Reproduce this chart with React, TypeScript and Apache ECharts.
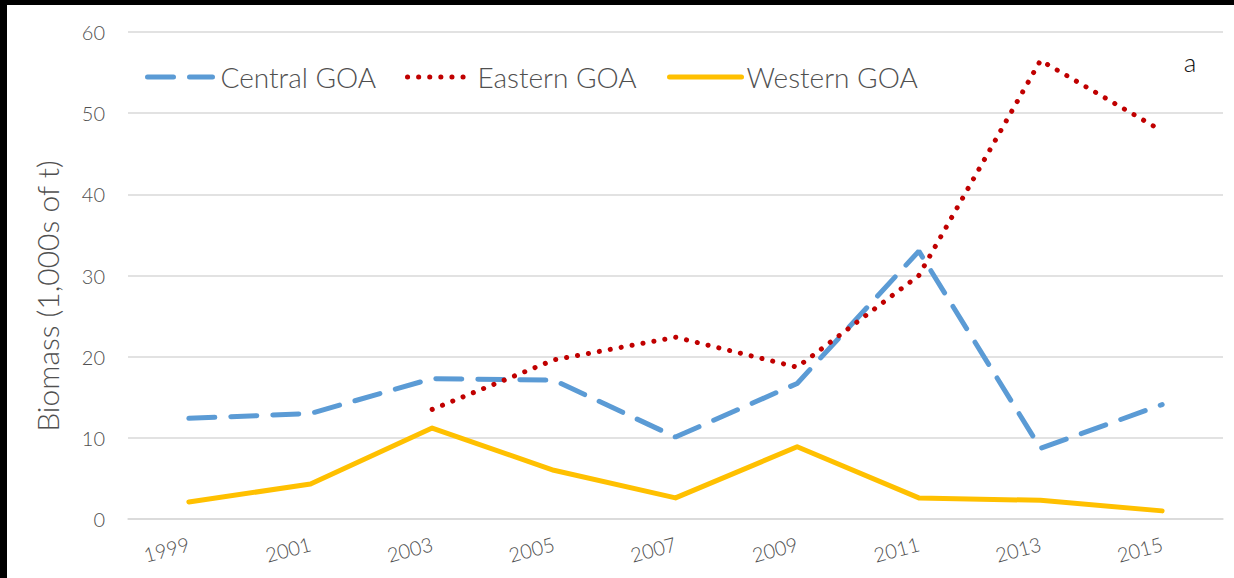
import React, { useEffect, useRef } from "react";
import * as echarts from "echarts";

const years = ["1999", "2001", "2003", "2005", "2007", "2009", "2011", "2013", "2015"];
const central = [12.4, 13.0, 17.3, 17.1, 10.1, 16.7, 33.0, 8.7, 14.1];
const eastern = [null, null, 13.5, 19.6, 22.4, 18.7, 30.0, 56.5, 47.8];
const western = [2.1, 4.3, 11.2, 6.0, 2.6, 8.9, 2.6, 2.3, 1.0];
const yTicks = { min: 0, max: 60, interval: 10 };

const FONT = "Lato";
const TXT = "#505050";
const BLUE = "#5B9BD5";
const RED = "#C00000";
const YELLOW = "#FFC000";
const dashBlue = [26, 16];
const dotRed = [0.1, 11];

export default function App() {
  const ref = useRef<HTMLDivElement>(null);
  useEffect(() => {
    const chart = echarts.init(ref.current!, null, { renderer: "svg" });
    const legendBase = {
      top: 58,
      itemHeight: 14,
      itemStyle: { opacity: 0 },
      textStyle: { fontFamily: FONT, fontSize: 28, color: TXT, fontWeight: 300, padding: [0, 0, 0, 3] },
    };
    chart.setOption({
      animation: false,
      backgroundColor: "#ffffff",
      textStyle: { fontFamily: FONT },
      grid: { left: 128, top: 32, right: 11, bottom: 59 },
      legend: [
        { ...legendBase, left: 140, itemWidth: 65, data: ["Central GOA"], lineStyle: { width: 5, type: dashBlue, cap: "round", color: BLUE } },
        { ...legendBase, left: 400, itemWidth: 62, data: ["Eastern GOA"], lineStyle: { width: 5, type: dotRed, cap: "round", color: RED } },
        {
          ...legendBase,
          left: 662,
          itemWidth: 72,
          data: ["Western GOA"],
          lineStyle: { width: 5, type: "solid", cap: "round", color: YELLOW },
          textStyle: { ...legendBase.textStyle, padding: [0, 0, 0, 0] },
        },
      ],
      xAxis: {
        type: "category",
        data: years,
        boundaryGap: true,
        axisLine: { show: true, lineStyle: { color: "#D9D9D9", width: 1.5 } },
        axisTick: { show: false },
        axisLabel: { rotate: 15, fontSize: 20, color: TXT, fontFamily: FONT, fontWeight: 300, margin: 24 },
      },
      yAxis: {
        type: "value",
        min: yTicks.min,
        max: yTicks.max,
        interval: yTicks.interval,
        axisLine: { show: false },
        axisTick: { show: false },
        axisLabel: { fontSize: 20, color: TXT, fontFamily: FONT, fontWeight: 300, margin: 23 },
        splitLine: { lineStyle: { color: "#D9D9D9", width: 1.5 } },
      },
      series: [
        {
          name: "Central GOA",
          type: "line",
          data: central,
          symbol: "none",
          color: BLUE,
          lineStyle: { color: BLUE, width: 5, type: dashBlue, cap: "round" },
        },
        {
          name: "Eastern GOA",
          type: "line",
          data: eastern,
          symbol: "none",
          color: RED,
          lineStyle: { color: RED, width: 5, type: dotRed, cap: "round" },
        },
        {
          name: "Western GOA",
          type: "line",
          data: western,
          symbol: "none",
          color: YELLOW,
          lineStyle: { color: YELLOW, width: 5, type: "solid", cap: "round", join: "round" },
        },
      ],
      graphic: [
        { type: "rect", left: 0, top: 0, shape: { width: 1234, height: 5 }, style: { fill: "#000" }, z: 100 },
        { type: "rect", left: 0, top: 0, shape: { width: 7, height: 578 }, style: { fill: "#000" }, z: 100 },
        {
          type: "text",
          x: 47,
          y: 296,
          rotation: Math.PI / 2,
          style: { text: "Biomass (1,000s of t)", fontFamily: FONT, fontSize: 30, fontWeight: 300, fill: TXT, align: "center", verticalAlign: "middle" },
        },
        {
          type: "text",
          x: 1190,
          y: 62,
          style: { text: "a", fontFamily: FONT, fontSize: 26, fontWeight: 300, fill: "#111", align: "center", verticalAlign: "middle" },
        },
      ],
    });
    return () => chart.dispose();
  }, []);
  return (
    <div style={{ position: "fixed", left: 0, top: 0, width: 1234, height: 578 }}>
      <div ref={ref} style={{ width: 1234, height: 578 }} />
    </div>
  );
}
